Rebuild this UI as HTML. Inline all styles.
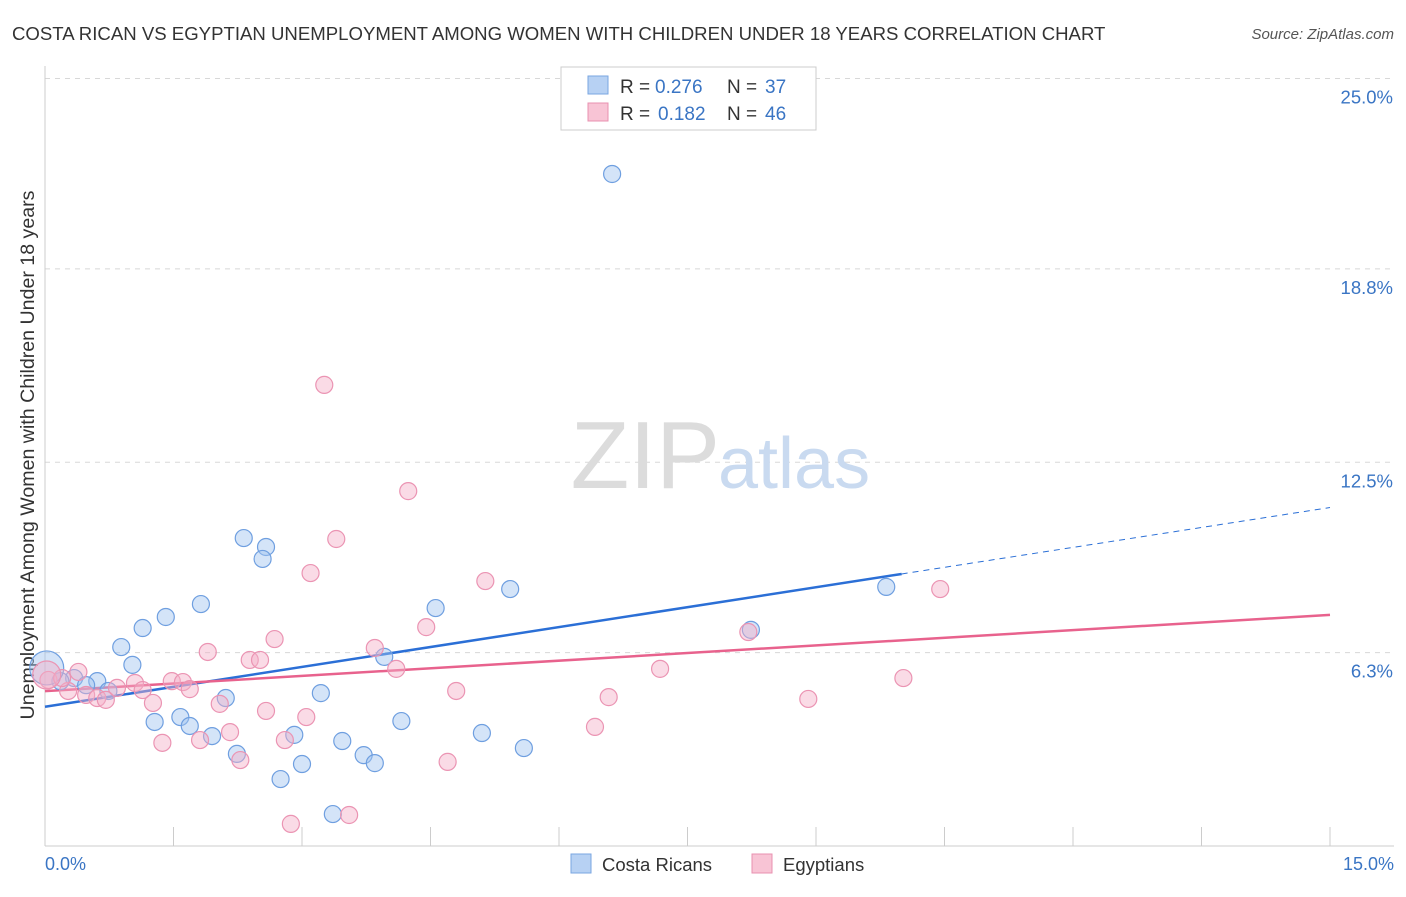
<!DOCTYPE html>
<html><head><meta charset="utf-8"><style>
body{margin:0;background:#fff;font-family:"Liberation Sans",sans-serif;}
svg text{font-family:"Liberation Sans",sans-serif;}
</style></head><body>
<svg id="chart" width="1406" height="892">
<text x="12" y="40" font-size="18.6" fill="#333">COSTA RICAN VS EGYPTIAN UNEMPLOYMENT AMONG WOMEN WITH CHILDREN UNDER 18 YEARS CORRELATION CHART</text>
<text x="1394" y="39" font-size="15" fill="#555" text-anchor="end" font-style="italic">Source: ZipAtlas.com</text>
<g id="grid"></g>
<text x="720" y="488" font-size="96" fill="#dcdcdc" text-anchor="end" font-family="Liberation Serif">ZIP</text>
<text x="718" y="488" font-size="72" fill="#c9daf0">atlas</text>
<line x1="45" y1="66" x2="45" y2="846" stroke="#ccc"/>
<line x1="45" y1="846" x2="1394" y2="846" stroke="#ccc"/>
<text transform="translate(34,455) rotate(-90)" font-size="19.6" fill="#333" text-anchor="middle">Unemployment Among Women with Children Under 18 years</text>
<text x="45" y="870" font-size="18" fill="#3a75c4">0.0%</text>
<text x="1394" y="870" font-size="18" fill="#3a75c4" text-anchor="end">15.0%</text>
<g id="lines"></g>
<g id="points"></g>
<g>
<rect x="561" y="67" width="255" height="63" fill="#fff" stroke="#ccc"/>
<rect x="588" y="76" width="20" height="18" fill="#b7d1f3" stroke="#7aa6e0"/>
<rect x="588" y="103" width="20" height="18" fill="#f8c4d5" stroke="#e891b0"/>
<text x="620" y="93" font-size="19" fill="#333">R =</text>
<text x="655" y="93" font-size="19" fill="#3a75c4">0.276</text>
<text x="727" y="93" font-size="19" fill="#333">N =</text>
<text x="765" y="93" font-size="19" fill="#3a75c4">37</text>
<text x="620" y="120" font-size="19" fill="#333">R =</text>
<text x="658" y="120" font-size="19" fill="#3a75c4">0.182</text>
<text x="727" y="120" font-size="19" fill="#333">N =</text>
<text x="765" y="120" font-size="19" fill="#3a75c4">46</text>
</g>
<g>
<rect x="571" y="854" width="20" height="19" fill="#b7d1f3" stroke="#7aa6e0"/>
<text x="602" y="871" font-size="18.5" fill="#333">Costa Ricans</text>
<rect x="752" y="854" width="20" height="19" fill="#f8c4d5" stroke="#e891b0"/>
<text x="783" y="871" font-size="18.5" fill="#333">Egyptians</text>
</g>
</svg>
<script>
const yTicks=[25.0,18.8,12.5,6.3];
const yTickLabels=["25.0%","18.8%","12.5%","6.3%"];
const xTicks=[0,1.5,3,4.5,6,7.5,9,10.5,12,13.5,15];
const blueX=[6.62,2.32,2.58,2.54,1.82,1.41,1.14,0.89,1.02,0.34,0.18,0.61,0.48,0.74,2.11,3.22,1.28,1.58,1.69,1.95,2.24,2.75,3.00,2.91,3.47,3.72,3.85,3.36,3.96,4.56,4.16,5.10,5.59,5.43,8.24,9.82,0.02];
const blueY=[21.89,10.03,9.74,9.35,7.88,7.46,7.10,6.48,5.90,5.47,5.37,5.37,5.24,5.05,4.82,4.98,4.04,4.20,3.91,3.58,3.00,2.18,2.67,3.62,3.42,2.96,2.70,1.04,6.16,7.75,4.07,3.68,3.19,8.37,7.04,8.44,5.80];
const pinkX=[3.26,4.24,3.40,3.10,5.14,10.45,8.21,2.68,3.85,4.45,1.90,2.39,2.51,4.10,7.18,10.02,0.04,0.39,0.27,0.20,0.48,0.61,0.71,0.84,1.05,1.14,1.48,1.61,1.69,1.26,2.04,2.58,3.05,2.16,2.28,2.80,1.81,1.37,4.80,6.58,8.91,6.42,4.70,2.87,3.55,0.02];
const pinkY=[15.02,11.56,10.00,8.89,8.63,8.37,6.97,6.74,6.45,7.13,6.32,6.06,6.06,5.77,5.77,5.47,5.41,5.67,5.05,5.47,4.92,4.82,4.76,5.15,5.31,5.08,5.37,5.34,5.11,4.66,4.63,4.40,4.20,3.71,2.80,3.45,3.45,3.36,5.05,4.85,4.79,3.88,2.74,0.72,1.01,5.57];
const NS="http://www.w3.org/2000/svg";
const X=v=>45+v*(1285/15);
const Y=v=>846-v*30.7;
function mk(tag,attrs,parent){const e=document.createElementNS(NS,tag);for(const k in attrs)e.setAttribute(k,attrs[k]);parent.appendChild(e);return e;}
const grid=document.getElementById('grid');
yTicks.forEach((t,i)=>{
  const l=mk('line',{x1:45,x2:1394,y1:Y(t),y2:Y(t),stroke:'#d8d8d8','stroke-dasharray':'5,5'},grid);
  
  
  const tx=mk('text',{x:1393,y:Y(t)+25,'font-size':18.5,fill:'#3a75c4','text-anchor':'end'},grid);
  tx.textContent=yTickLabels[i];
  
  
});
xTicks.forEach(t=>{
  const l=mk('line',{x1:X(t),x2:X(t),y1:827,y2:846,stroke:'#ccc'},grid);
  
  
});
function fit(xs,ys){const n=xs.length;let sx=0,sy=0,sxx=0,sxy=0;for(let i=0;i<n;i++){sx+=xs[i];sy+=ys[i];sxx+=xs[i]*xs[i];sxy+=xs[i]*ys[i];}const b=(n*sxy-sx*sy)/(n*sxx-sx*sx);return [ (sy-b*sx)/n, b];}
const lines=document.getElementById('lines');
const bf=fit(blueX,blueY), pf=fit(pinkX,pinkY);
let l=mk('line',{x1:X(0),y1:Y(bf[0]),x2:X(10),y2:Y(bf[0]+bf[1]*10),stroke:'#2b6fd6','stroke-width':2.5},lines);


l=mk('line',{x1:X(10),y1:Y(bf[0]+bf[1]*10),x2:X(15),y2:Y(bf[0]+bf[1]*15),stroke:'#2b6fd6','stroke-width':1,'stroke-dasharray':'6,5'},lines);


l=mk('line',{x1:X(0),y1:Y(pf[0]),x2:X(15),y2:Y(pf[0]+pf[1]*15),stroke:'#e8628d','stroke-width':2.5},lines);


const pts=document.getElementById('points');
blueX.forEach((x,i)=>{
  const c=mk('circle',{cx:X(x),cy:Y(blueY[i]),r:i===blueX.length-1?17:8.5,fill:'rgba(160,196,240,0.45)',stroke:'#6f9fe0','stroke-width':1.2},pts);
  
  
});
pinkX.forEach((x,i)=>{
  const c=mk('circle',{cx:X(x),cy:Y(pinkY[i]),r:i===pinkX.length-1?14:8.5,fill:'rgba(245,176,200,0.45)',stroke:'#eb94b3','stroke-width':1.2},pts);
  
  
});
</script>
</body></html>
